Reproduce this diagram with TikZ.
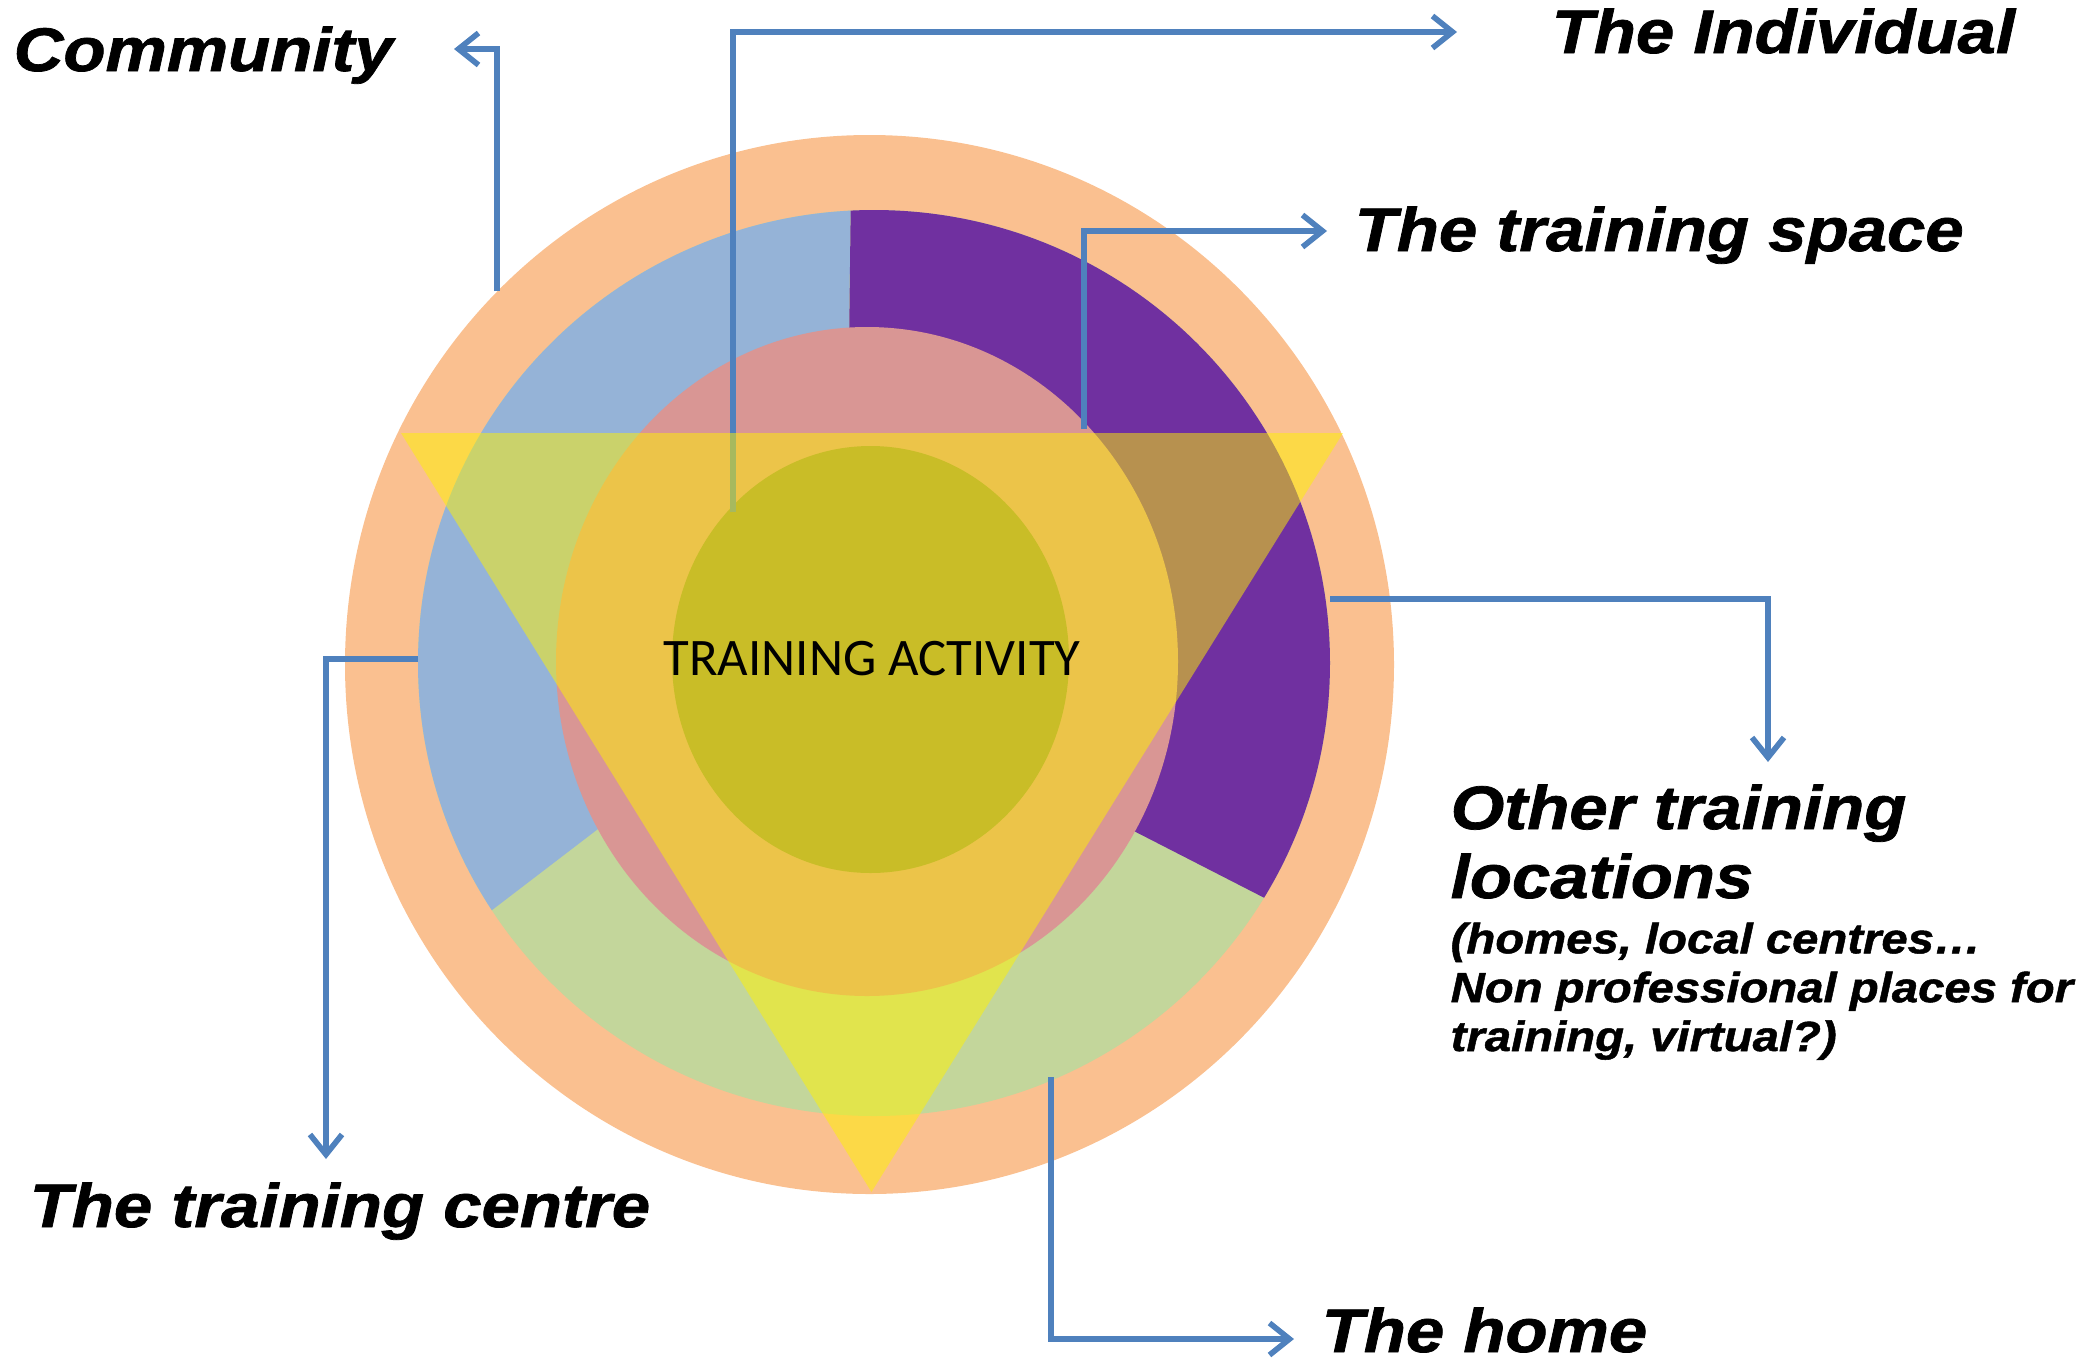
\documentclass[tikz,border=0pt]{standalone}
\usepackage{fontspec}
\setmainfont{Liberation Sans}
\newfontfamily\placefont{Liberation Sans}[FakeStretch=1.12, FakeBold=1.2]
\newfontfamily\corefont{Carlito}
\usetikzlibrary{arrows.meta}
\usetikzlibrary{positioning}

\definecolor{ringout}{RGB}{250,192,144}
\definecolor{commblue}{RGB}{149,179,215}
\definecolor{spacepurple}{RGB}{112,48,160}
\definecolor{homegreen}{RGB}{195,214,155}
\definecolor{centrepink}{RGB}{217,150,148}
\definecolor{corekhaki}{RGB}{147,137,80}
\definecolor{linkblue}{RGB}{79,129,189}

\begin{document}
\begin{tikzpicture}[x=0.01cm, y=-0.01cm,
      link/.style = {draw=linkblue, line width=1.6pt,
         -{Straight Barb[length=2mm,width=3.2mm]}},
      place/.style = {anchor=base west, inner sep=0pt, align=left,
         font=\placefont\bfseries\itshape\fontsize{17.5}{19.6}\selectfont},
      note/.style = {anchor=base west, inner sep=0pt, align=left,
         font=\placefont\bfseries\itshape\fontsize{12}{13.9}\selectfont}]

   \useasboundingbox (0,0) rectangle (2096,1363);

   % outer ring
   \fill[ringout] (869.5,664.5) ellipse [x radius=524.5, y radius=529.5];

   % middle ring, three parts
   \begin{scope}
      \clip (874,663) ellipse [x radius=456, y radius=453];
      \fill[homegreen] (300,100) rectangle (1450,1200);
      \fill[commblue] (852,100) -- (300,100) -- (300,1057) -- (845,640) -- cycle;
      \fill[spacepurple] (852,100) -- (1450,100) -- (1450,993) -- (845,683) -- cycle;
   \end{scope}

   % training space and individual
   \fill[centrepink] (867,661.5) ellipse [x radius=311, y radius=334.5];
   \fill[corekhaki] (870.5,659.5) ellipse [x radius=198.5, y radius=213.5];

   % connectors
   \coordinate (comm0) at (497,291);
   \coordinate (comm1) at (454,49);
   \coordinate (indiv0) at (733,512);
   \coordinate (indiv1) at (1457,32);
   \coordinate (space0) at (1084,429);
   \coordinate (space1) at (1327,231);
   \coordinate (other0) at (1330,599);
   \coordinate (other1) at (1768,762);
   \coordinate (centre0) at (418,659);
   \coordinate (centre1) at (326,1159);
   \coordinate (home0) at (1051,1077);
   \coordinate (home1) at (1294,1339);

   \draw[link] (comm0) |- (comm1);
   \draw[link] (indiv0) |- (indiv1);
   \draw[link] (space0) |- (space1);
   \draw[link] (other0) -| (other1);
   \draw[link] (centre0) -| (centre1);
   \draw[link] (home0) |- (home1);

   % activity triangle
   \fill[yellow, fill opacity=0.5] (401,433) -- (1343,433) -- (871.5,1192) -- cycle;

   \node[font=\corefont\fontsize{15}{18}\selectfont] (activity) at (872,659)
      {TRAINING ACTIVITY};

   % labels
   \node[place] (community) at (13,71) {Community};
   \node[place] (individual) at (1551,53) {The Individual};
   \node[place] (space) at (1354,251) {The training space};
   \node[place] (other) at (1450,898) {Other training\\locations};
   \node[note] (othernote) at (1450,1051)
      {(homes, local centres…\\Non professional places for\\training, virtual?)};
   \node[place] (centre) at (29,1227) {The training centre};
   \node[place] (home) at (1321,1352) {The home};

\end{tikzpicture}
\end{document}
